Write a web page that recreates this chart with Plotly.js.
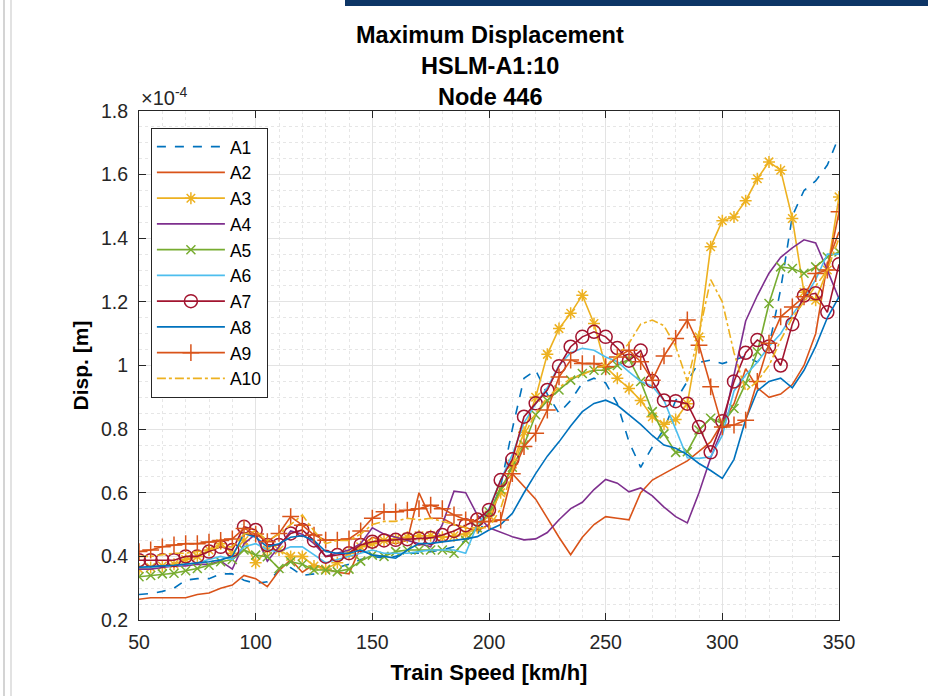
<!DOCTYPE html>
<html>
<head>
<meta charset="utf-8">
<script src="https://cdn.plot.ly/plotly-3.0.1.min.js"></script>
<style>
  html, body { margin: 0; padding: 0; background: #ffffff; }
  #chart { width: 928px; height: 696px; position: absolute; left: 0; top: 0; }
  .bar { position: absolute; left: 345px; top: 0; width: 583px; height: 6px; background: #0d3566; }
  .vl1 { position: absolute; left: 3px; top: 0; width: 2px; height: 696px; background: #d4d4d4; }
  .vl2 { position: absolute; left: 10px; top: 0; width: 2px; height: 696px; background: #e2e2e2; }
</style>
</head>
<body>
<div id="chart"></div>
<div class="bar"></div>
<div class="vl1"></div>
<div class="vl2"></div>
<script>
// Train speed [km/h]
const speed = [50,55,60,65,70,75,80,85,90,95,100,105,110,115,120,125,130,135,140,145,150,155,160,165,170,175,180,185,190,195,200,205,210,215,220,225,230,235,240,245,250,255,260,265,270,275,280,285,290,295,300,305,310,315,320,325,330,335,340,345,350];

// Maximum displacement, in units of 1e-4 m
const A1 = [0.28,0.283,0.29,0.30,0.325,0.33,0.33,0.345,0.345,0.325,0.315,0.32,0.355,0.365,0.34,0.345,0.355,0.365,0.375,0.39,0.40,0.395,0.40,0.41,0.41,0.415,0.42,0.43,0.45,0.47,0.53,0.62,0.80,0.96,0.985,0.91,0.85,0.89,0.945,0.96,0.945,0.88,0.76,0.68,0.744,0.80,0.89,0.95,1.01,1.017,1.006,1.017,1.03,1.01,1.06,1.24,1.47,1.55,1.58,1.63,1.72];
const A2 = [0.265,0.27,0.27,0.27,0.27,0.28,0.285,0.30,0.31,0.34,0.33,0.305,0.355,0.39,0.35,0.375,0.36,0.35,0.345,0.43,0.46,0.45,0.44,0.45,0.60,0.52,0.52,0.50,0.49,0.48,0.50,0.62,0.66,0.62,0.58,0.52,0.46,0.405,0.46,0.50,0.525,0.52,0.515,0.60,0.64,0.66,0.68,0.70,0.73,0.76,0.82,0.88,0.99,0.93,0.90,0.91,0.94,1.00,1.10,1.32,1.42];
const A3 = [0.36,0.365,0.37,0.375,0.39,0.40,0.42,0.44,0.41,0.45,0.38,0.42,0.42,0.40,0.40,0.37,0.36,0.38,0.41,0.43,0.44,0.45,0.455,0.46,0.465,0.465,0.46,0.465,0.47,0.49,0.53,0.60,0.69,0.79,0.90,1.035,1.116,1.164,1.221,1.132,0.996,0.96,0.928,0.89,0.839,0.815,0.83,0.88,1.09,1.373,1.455,1.467,1.518,1.587,1.64,1.614,1.462,1.23,1.205,1.30,1.53];
const A4 = [0.36,0.36,0.365,0.37,0.37,0.375,0.375,0.385,0.36,0.44,0.47,0.385,0.43,0.48,0.47,0.44,0.40,0.41,0.42,0.44,0.49,0.47,0.46,0.45,0.44,0.43,0.50,0.605,0.60,0.53,0.49,0.475,0.462,0.452,0.455,0.475,0.515,0.55,0.57,0.61,0.642,0.63,0.603,0.615,0.59,0.555,0.525,0.505,0.60,0.71,0.80,0.97,1.14,1.22,1.29,1.34,1.37,1.395,1.385,1.30,1.21];
const A5 = [0.336,0.34,0.345,0.347,0.355,0.362,0.372,0.383,0.39,0.42,0.404,0.399,0.362,0.383,0.375,0.357,0.357,0.352,0.36,0.385,0.404,0.40,0.415,0.42,0.42,0.42,0.42,0.41,0.45,0.49,0.54,0.61,0.68,0.75,0.845,0.89,0.923,0.954,0.975,0.985,0.985,1.0,1.02,0.95,0.855,0.785,0.727,0.729,0.797,0.834,0.818,0.865,0.944,1.043,1.195,1.31,1.305,1.29,1.31,1.341,1.357];
const A6 = [0.365,0.365,0.37,0.37,0.375,0.38,0.39,0.40,0.39,0.43,0.44,0.42,0.415,0.43,0.43,0.405,0.38,0.39,0.40,0.41,0.42,0.41,0.41,0.41,0.415,0.42,0.42,0.42,0.41,0.50,0.55,0.64,0.72,0.82,0.88,0.93,1.00,1.04,1.054,1.048,1.027,1.012,0.98,0.95,0.935,0.89,0.80,0.71,0.708,0.713,0.78,0.92,0.97,1.01,1.06,1.10,1.16,1.21,1.27,1.35,1.35];
const A7 = [0.388,0.388,0.388,0.388,0.40,0.40,0.415,0.43,0.42,0.493,0.483,0.436,0.436,0.472,0.483,0.45,0.399,0.404,0.41,0.436,0.446,0.45,0.452,0.454,0.456,0.458,0.467,0.48,0.498,0.516,0.546,0.64,0.705,0.839,0.881,0.923,0.998,1.059,1.09,1.106,1.09,1.055,1.015,1.047,0.951,0.89,0.888,0.88,0.807,0.727,0.825,0.95,1.04,1.08,1.06,1.00,1.13,1.22,1.227,1.167,1.318];
const A8 = [0.366,0.367,0.37,0.372,0.375,0.378,0.383,0.389,0.40,0.472,0.46,0.43,0.44,0.46,0.465,0.45,0.415,0.41,0.41,0.42,0.404,0.40,0.394,0.42,0.44,0.441,0.445,0.45,0.455,0.462,0.483,0.50,0.535,0.60,0.66,0.715,0.76,0.81,0.855,0.881,0.891,0.875,0.845,0.815,0.78,0.75,0.74,0.72,0.692,0.67,0.645,0.705,0.83,0.92,0.95,0.96,0.93,0.985,1.06,1.15,1.216];
const A9 = [0.415,0.42,0.43,0.436,0.44,0.44,0.445,0.45,0.455,0.488,0.47,0.446,0.472,0.525,0.498,0.467,0.451,0.451,0.455,0.48,0.52,0.54,0.54,0.545,0.55,0.561,0.55,0.53,0.515,0.509,0.51,0.514,0.66,0.745,0.787,0.86,0.964,1.017,1.006,1.006,0.996,1.027,1.048,1.012,0.954,1.03,1.085,1.143,1.064,0.933,0.807,0.813,0.828,0.95,1.07,1.153,1.184,1.216,1.289,1.30,1.483];
const A10 = [0.40,0.40,0.405,0.41,0.41,0.415,0.42,0.43,0.43,0.47,0.48,0.45,0.47,0.50,0.53,0.48,0.44,0.45,0.45,0.47,0.50,0.51,0.51,0.52,0.515,0.52,0.51,0.50,0.49,0.49,0.49,0.55,0.67,0.78,0.85,0.90,0.93,0.96,0.97,0.99,1.00,1.03,1.07,1.13,1.143,1.125,1.06,0.95,1.10,1.27,1.20,1.04,0.92,0.95,1.00,1.08,1.15,1.20,1.25,1.30,1.40];

const seriesNames = ['A1','A2','A3','A4','A5','A6','A7','A8','A9','A10'];
const seriesData = [A1,A2,A3,A4,A5,A6,A7,A8,A9,A10];
const colors = ['#0072BD','#D95319','#EDB120','#7E2F8E','#77AC30','#4DBEEE','#A2142F','#0072BD','#D95319','#EDB120'];
const dashes = ['dash','solid','solid','solid','solid','solid','solid','solid','solid','dashdot'];
const symbols = [null,null,'asterisk-open',null,'x-thin-open',null,'circle-open',null,'cross-thin-open',null];
const msizes = [0,0,10,0,9,0,13,0,12,0];

const traces = seriesNames.map((n,i) => {
  const t = {
    x: speed, y: seriesData[i], name: n, type: 'scatter',
    legendgroup: n,
    line: {color: colors[i], width: 1.6, dash: dashes[i]},
    mode: symbols[i] ? 'lines+markers' : 'lines'
  };
  if (symbols[i]) t.marker = {symbol: symbols[i], size: msizes[i], color: colors[i], line: {color: colors[i], width: 1.5}};
  return t;
});

const font = 'Liberation Sans, Arial, sans-serif';
const layout = {
  width: 928, height: 696,
  margin: {l: 139, r: 89, t: 111, b: 76},
  paper_bgcolor: '#ffffff', plot_bgcolor: '#ffffff',
  font: {family: font, color: '#262626', size: 17},
  showlegend: true,
  legend: {
    x: 0.017, y: 0.967, xanchor: 'left', yanchor: 'top',
    bgcolor: '#ffffff', bordercolor: '#262626', borderwidth: 1,
    font: {family: font, size: 17.5, color: '#000000'},
    tracegroupgap: 0, itemwidth: 68
  },
  xaxis: {
    range: [50, 350], dtick: 50, tick0: 50,
    ticks: 'inside', ticklen: 7, tickcolor: '#262626', tickwidth: 1,
    showline: true, linecolor: '#262626', linewidth: 1, mirror: 'allticks',
    showgrid: true, gridcolor: '#e3e3e3', gridwidth: 1,
    minor: {dtick: 10, showgrid: true, gridcolor: '#e6e6e6', griddash: 'dot', gridwidth: 1},
    zeroline: false,
    tickfont: {size: 19.5, color: '#262626'},
    ticklabelstandoff: 5,
    title: {text: '<b>Train Speed [km/h]</b>', font: {size: 22, color: '#000000'}, standoff: 12}
  },
  yaxis: {
    range: [0.2, 1.8], dtick: 0.2, tick0: 0.2,
    ticks: 'inside', ticklen: 7, tickcolor: '#262626', tickwidth: 1,
    showline: true, linecolor: '#262626', linewidth: 1, mirror: 'allticks',
    showgrid: true, gridcolor: '#e3e3e3', gridwidth: 1,
    minor: {dtick: 0.05, showgrid: true, gridcolor: '#e6e6e6', griddash: 'dot', gridwidth: 1},
    zeroline: false,
    tickfont: {size: 19.5, color: '#262626'},
    ticklabelstandoff: 6,
    title: {text: '<b>Disp. [m]</b>', font: {size: 21, color: '#000000'}, standoff: 6}
  },
  annotations: [
    {text: '<b>Maximum Displacement</b>', xref: 'paper', yref: 'paper', x: 0.5015, y: 1.1487, xanchor: 'center', yanchor: 'middle', showarrow: false, font: {size: 23.5, color: '#000000', family: font}},
    {text: '<b>HSLM-A1:10</b>', xref: 'paper', yref: 'paper', x: 0.5015, y: 1.0878, xanchor: 'center', yanchor: 'middle', showarrow: false, font: {size: 23.5, color: '#000000', family: font}},
    {text: '<b>Node 446</b>', xref: 'paper', yref: 'paper', x: 0.5015, y: 1.027, xanchor: 'center', yanchor: 'middle', showarrow: false, font: {size: 23.5, color: '#000000', family: font}},
    {text: '×10<sup>-4</sup>', xref: 'paper', yref: 'paper', x: 0.0, y: 1.0, xanchor: 'left', yanchor: 'bottom', showarrow: false, font: {size: 20, color: '#262626', family: font}}
  ]
};

Plotly.newPlot('chart', traces, layout, {displayModeBar: false, staticPlot: true});
</script>
</body>
</html>
